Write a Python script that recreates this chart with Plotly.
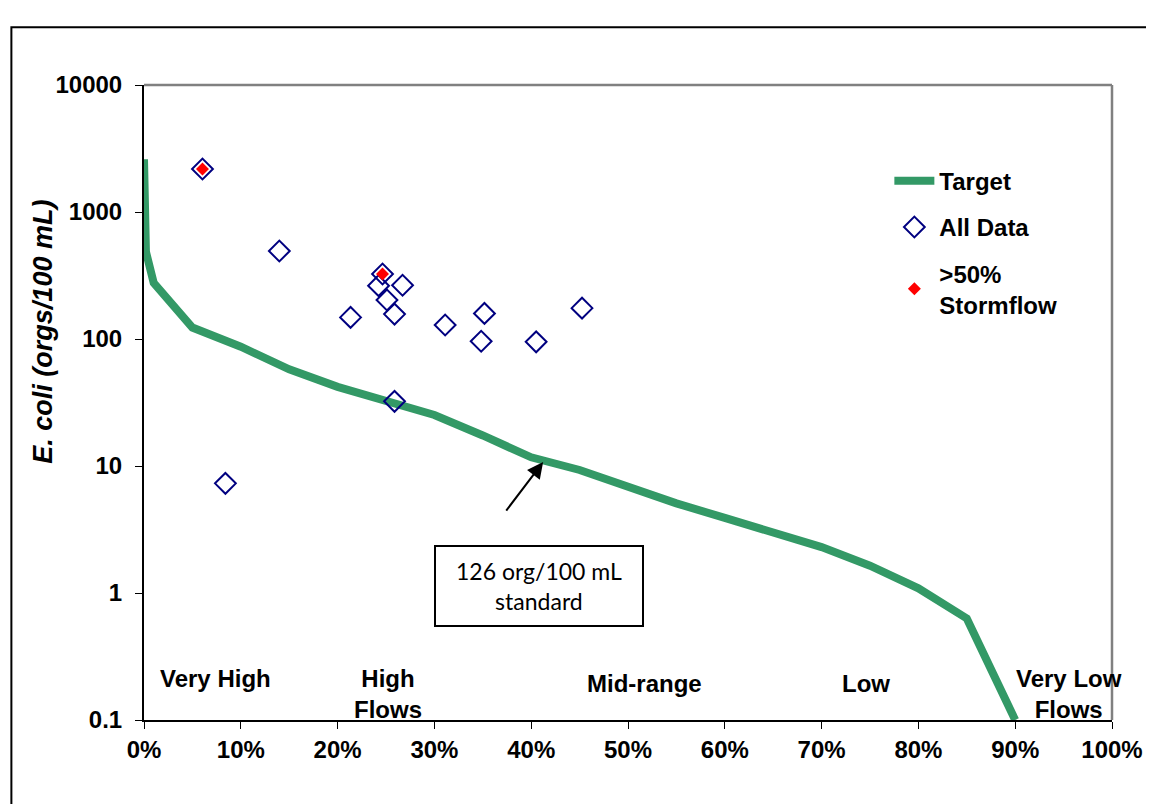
import plotly.graph_objects as go

# Target (load duration) curve
target_x = [0.0, 0.002, 0.01, 0.05, 0.10, 0.15, 0.20, 0.25, 0.30, 0.35, 0.40, 0.45,
            0.50, 0.55, 0.60, 0.65, 0.70, 0.75, 0.80, 0.85, 0.90]
target_y = [2600, 486, 277, 123, 87, 57.7, 42, 32, 25.2, 17.4, 11.7, 9.3,
            6.8, 5.08, 3.9, 3.0, 2.3, 1.64, 1.09, 0.63, 0.1]

# All observed data
data_x = [0.0604, 0.1398, 0.0841, 0.2464, 0.2423, 0.2671, 0.2510, 0.2588,
          0.2134, 0.3111, 0.3517, 0.3483, 0.4051, 0.4525, 0.2588]
data_y = [2180, 493, 7.3, 325, 263, 265, 203, 157, 148, 129, 159, 96, 95, 175, 32.3]

# Samples with >50% stormflow
storm_x = [0.0604, 0.2464]
storm_y = [2180, 325]

x_ticks = [0, 0.1, 0.2, 0.3, 0.4, 0.5, 0.6, 0.7, 0.8, 0.9, 1.0]
y_ticks = [0.1, 1, 10, 100, 1000, 10000]
y_tick_text = ["0.1", "1", "10", "100", "1000", "10000"]

regions = ["Very High", "High<br>Flows", "Mid-range", "Low", "Very Low<br>Flows"]
region_x = [0.074, 0.252, 0.5175, 0.7456, 0.956]
region_y = [0.065, 0.041, 0.057, 0.058, 0.041]

FONT = '"Liberation Sans", Arial, sans-serif'

fig = go.Figure()
fig.add_trace(go.Scatter(
    x=target_x, y=target_y, mode="lines", name="<b>Target</b>",
    line=dict(color="#339966", width=8), legendgroup="a"))
fig.add_trace(go.Scatter(
    x=data_x, y=data_y, mode="markers", name="<b>All Data</b>",
    marker=dict(symbol="diamond-open", size=16, color="#000080",
                line=dict(width=2, color="#000080")), legendgroup="b"))
fig.add_trace(go.Scatter(
    x=storm_x, y=storm_y, mode="markers", name="<b>>50%<br>Stormflow</b>",
    marker=dict(symbol="diamond", size=10, color="#FF0000",
                line=dict(width=0)), legendgroup="c"))

annotations = []
for t, xx, yy in zip(regions, region_x, region_y):
    annotations.append(dict(text="<b>" + t + "</b>", x=xx, y=yy, xref="paper", yref="paper",
                            showarrow=False, font=dict(family=FONT, size=24, color="black"),
                            xanchor="center", yanchor="middle"))
# y-axis title (placed above the axis centre, as in the original)
annotations.append(dict(text="<b><i>E. coli (orgs/100 mL)</i></b>", x=-0.1047, y=0.611,
                        xref="paper", yref="paper", showarrow=False, textangle=-90,
                        font=dict(family=FONT, size=27, color="black"),
                        xanchor="center", yanchor="middle"))
# standard box
annotations.append(dict(text="126 org/100 mL<br>standard", x=0.408, y=0.055,
                        xref="x", yref="y", showarrow=False,
                        font=dict(family="Lato, Open Sans, sans-serif", size=23, color="black"),
                        bordercolor="black", borderwidth=2, borderpad=8,
                        width=190, height=62, bgcolor="white"))
# arrow
annotations.append(dict(text="", x=0.4123, y=1.031, xref="x", yref="y",
                        showarrow=True, ax=-38, ay=50, arrowhead=2, arrowsize=1.6,
                        arrowwidth=2, arrowcolor="black"))

fig.update_layout(
    width=1154, height=804,
    margin=dict(l=135.5, r=49.5, t=77, b=92),
    paper_bgcolor="white", plot_bgcolor="white",
    font=dict(family=FONT, size=24, color="black"),
    showlegend=True,
    legend=dict(x=0.77, y=0.884, xanchor="left", yanchor="top",
                font=dict(family=FONT, size=24, color="black"),
                bgcolor="rgba(0,0,0,0)", tracegroupgap=12,
                itemwidth=40),
    annotations=annotations,
    shapes=[
        # gray top and right plot border
        dict(type="line", xref="paper", yref="paper", x0=0, x1=1, y0=1, y1=1,
             line=dict(color="#808080", width=2.5)),
        dict(type="line", xref="paper", yref="paper", x0=1, x1=1, y0=0, y1=1,
             line=dict(color="#808080", width=2.5)),
        # outer frame
        dict(type="rect", xref="paper", yref="paper", x0=-0.137, x1=1.2, y0=-0.3, y1=1.091,
             line=dict(color="black", width=2), layer="below"),
    ],
)

fig.update_xaxes(
    range=[0, 1], tickvals=x_ticks, ticktext=["<b>%d%%</b>" % round(v * 100) for v in x_ticks],
    showgrid=False, zeroline=False, showline=True, linecolor="black", linewidth=2,
    ticks="outside", ticklen=7, tickcolor="black", tickwidth=1,
    tickfont=dict(family=FONT, size=24, color="black"),
)
fig.update_yaxes(
    type="log", range=[-1, 4], tickvals=y_ticks, ticktext=["<b>%s</b>" % t for t in y_tick_text],
    showgrid=False, zeroline=False, showline=True, linecolor="black", linewidth=2,
    ticks="outside", ticklen=7, tickcolor="black", tickwidth=1, ticklabelstandoff=8,
    tickfont=dict(family=FONT, size=24, color="black"),
)

fig.write_html("out.html")
